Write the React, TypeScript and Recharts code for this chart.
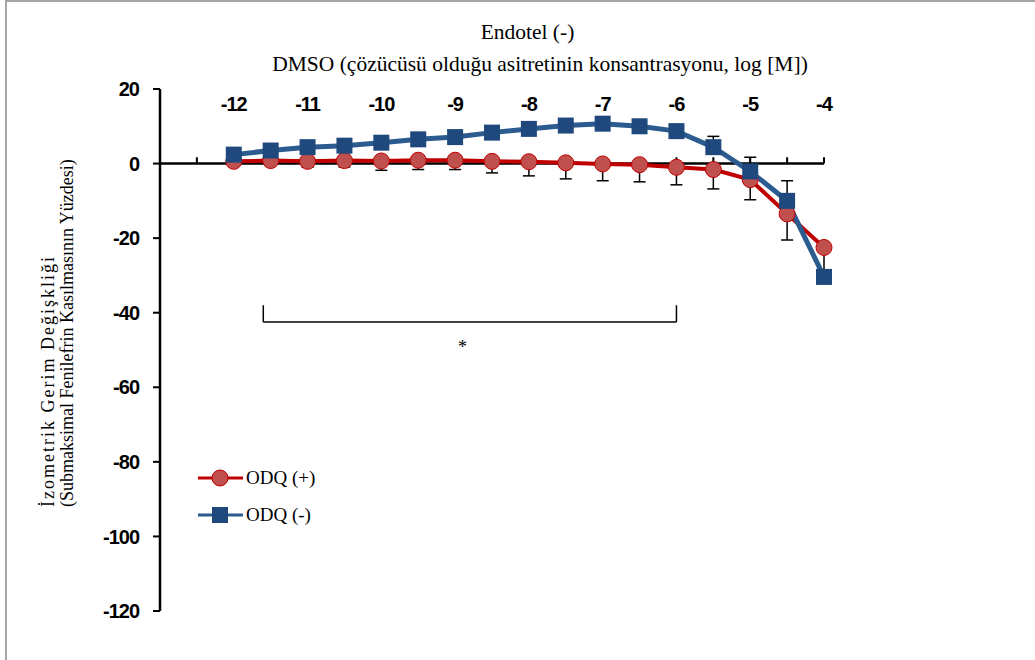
import React from 'react';
import {
  LineChart,
  Line,
  XAxis,
  YAxis,
  ErrorBar,
  ReferenceLine,
  ReferenceDot,
} from 'recharts';

// log [M] concentrations
const concentrations = [-12, -11.5, -11, -10.5, -10, -9.5, -9, -8.5, -8, -7.5, -7, -6.5, -6, -5.5, -5, -4.5, -4];

// ODQ (+) mean and lower error
const odqPlus = [0.6, 0.8, 0.6, 0.8, 0.7, 0.9, 0.9, 0.6, 0.5, 0.2, -0.1, -0.3, -1.0, -1.6, -4.3, -13.5, -22.5];
const odqPlusErr = [0.5, 0.8, 1.6, 1.7, 2.5, 2.5, 2.5, 3.1, 3.8, 4.3, 4.5, 4.6, 4.7, 5.2, 5.4, 7.0, 6.0];

// ODQ (-) mean and upper error
const odqMinus = [2.4, 3.5, 4.4, 4.8, 5.6, 6.5, 7.1, 8.3, 9.3, 10.2, 10.7, 10.0, 8.7, 4.4, -2.1, -10.0, -30.4];
const odqMinusErr = [0.8, 0.8, 0.8, 0.8, 0.8, 0.8, 0.8, 0.8, 1, 1, 1, 1, 1, 2.9, 3.8, 5.4, 1.5];

const xLabels = [-12, -11, -10, -9, -8, -7, -6, -5, -4];
const xTickMarks = [-12.5, -12, -11.5, -11, -10.5, -10, -9.5, -9, -8.5, -8, -7.5, -7, -6.5, -6, -5.5, -5, -4.5, -4];
const yTicks = [20, 0, -20, -40, -60, -80, -100, -120];

// significance bracket: from, to, top, bottom
const bracketX = [-11.6, -6];
const bracketY = [-38, -42.5];
const starPos = { x: -8.9, y: -49 };

const data = concentrations.map((c, i) => ({
  conc: c,
  plus: odqPlus[i],
  plusErr: [odqPlusErr[i], 0],
  minus: odqMinus[i],
  minusErr: [0, odqMinusErr[i]],
}));

const RED = '#c00000';
const RED_FILL = '#c0504d';
const BLUE = '#2c5c8f';
const BLUE_FILL = '#1f497d';

const numFont = { fontFamily: '"Liberation Sans", Arial, sans-serif', fontWeight: 700, fontSize: 20, fill: '#000', letterSpacing: -1 };
const serif = '"Liberation Serif", "Times New Roman", serif';

const TopTick = (props: any) => {
  const { x, y, payload } = props;
  return (
    <text x={x} y={y + 22} textAnchor="middle" style={numFont}>
      {payload.value}
    </text>
  );
};

const SquareDot = (props: any) => {
  const { cx, cy } = props;
  if (cx == null || cy == null) return null;
  return <rect x={cx - 8} y={cy - 8} width={16} height={16} fill={BLUE_FILL} />;
};

const YTitle = (props: any) => {
  const { viewBox } = props;
  const bottom = 507;
  const x1 = viewBox.x - 26;
  const x2 = viewBox.x - 7;
  return (
    <g style={{ fontFamily: serif, fontSize: 18 }} fill="#000">
      <text
        x={x1}
        y={bottom}
        transform={`rotate(-90 ${x1} ${bottom})`}
        textAnchor="start"
        style={{ letterSpacing: 2, whiteSpace: 'pre' }}
      >
        İzometrik Gerim Değişkliği
      </text>
      <text x={x2} y={bottom} transform={`rotate(-90 ${x2} ${bottom})`} textAnchor="start">
        (Submaksimal Fenilefrin Kasılmasının Yüzdesi)
      </text>
    </g>
  );
};

const LegendBox = () => (
  <div style={{ position: 'absolute', left: 198, top: 459, fontFamily: serif, fontSize: 19, color: '#000' }}>
    <div style={{ display: 'flex', alignItems: 'center', height: 37 }}>
      <svg width={48} height={20}>
        <line x1={0} y1={10} x2={45} y2={10} stroke={RED} strokeWidth={3} />
        <circle cx={22} cy={10} r={8} fill={RED_FILL} stroke={RED} strokeWidth={1} />
      </svg>
      <span>ODQ (+)</span>
    </div>
    <div style={{ display: 'flex', alignItems: 'center', height: 37 }}>
      <svg width={48} height={20}>
        <line x1={0} y1={10} x2={45} y2={10} stroke={BLUE} strokeWidth={3} />
        <rect x={14} y={2} width={16} height={16} fill={BLUE_FILL} />
      </svg>
      <span>ODQ (-)</span>
    </div>
  </div>
);

export default function App() {
  return (
    <div style={{ position: 'relative', width: 1035, height: 660, overflow: 'hidden', background: '#fff' }}>
      <style>{'body{margin:0}'}</style>
      <div
        style={{
          position: 'absolute',
          left: 5,
          top: 0,
          width: 1100,
          height: 700,
          borderLeft: '2px solid #a6a6a6',
          borderTop: '2px solid #a6a6a6',
        }}
      />
      <div style={{ position: 'absolute', left: 0, top: 20, width: 1035, fontFamily: serif, fontSize: 21.5 }}>
        <div style={{ position: 'absolute', left: 0, width: 1055, textAlign: 'center' }}>Endotel (-)</div>
        <div style={{ position: 'absolute', left: 0, top: 32, width: 1080, textAlign: 'center' }}>
          DMSO (çözücüsü olduğu asitretinin konsantrasyonu, log [M])
        </div>
      </div>
      <div style={{ position: 'absolute', left: 0, top: 0 }}>
        <LineChart width={1035} height={660} data={data} margin={{ top: 59, right: 211, bottom: 49, left: 80 }}>
          <XAxis
            dataKey="conc"
            type="number"
            orientation="top"
            domain={[-13, -4]}
            ticks={xLabels}
            tick={<TopTick />}
            tickLine={false}
            axisLine={false}
            tickSize={0}
            tickMargin={0}
            height={30}
          />
          <YAxis
            type="number"
            domain={[-120, 20]}
            ticks={yTicks}
            width={80}
            interval={0}
            tick={numFont}
            tickSize={7}
            tickMargin={14}
            tickLine={{ stroke: '#000', strokeWidth: 2 }}
            axisLine={{ stroke: '#000', strokeWidth: 2.5 }}
            label={<YTitle />}
          />
          <ReferenceLine y={0} stroke="#000" strokeWidth={2.5} />
          {xTickMarks.map((t) => (
            <ReferenceLine
              key={`tm-${t}`}
              segment={[{ x: t, y: 0 }, { x: t, y: 1.7 }]}
              stroke="#000"
              strokeWidth={2}
            />
          ))}
          <ReferenceLine
            segment={[{ x: bracketX[0], y: bracketY[1] }, { x: bracketX[1], y: bracketY[1] }]}
            stroke="#000"
            strokeWidth={1.5}
          />
          <ReferenceLine
            segment={[{ x: bracketX[0], y: bracketY[0] }, { x: bracketX[0], y: bracketY[1] }]}
            stroke="#000"
            strokeWidth={1.5}
          />
          <ReferenceLine
            segment={[{ x: bracketX[1], y: bracketY[0] }, { x: bracketX[1], y: bracketY[1] }]}
            stroke="#000"
            strokeWidth={1.5}
          />
          <ReferenceDot
            x={starPos.x}
            y={starPos.y}
            r={1}
            fill="none"
            stroke="none"
            label={{ value: '*', position: 'center', fontFamily: serif, fontSize: 18, fill: '#000' }}
          />
          <Line
            dataKey="plus"
            stroke={RED}
            strokeWidth={4}
            dot={{ r: 8, fill: RED_FILL, stroke: RED, strokeWidth: 1, fillOpacity: 1 }}
            isAnimationActive={false}
          >
            <ErrorBar dataKey="plusErr" direction="y" width={6} stroke="#000" strokeWidth={1.5} />
          </Line>
          <Line
            dataKey="minus"
            stroke={BLUE}
            strokeWidth={5}
            dot={<SquareDot />}
            isAnimationActive={false}
          >
            <ErrorBar dataKey="minusErr" direction="y" width={6} stroke="#000" strokeWidth={1.5} />
          </Line>
        </LineChart>
      </div>
      <LegendBox />
    </div>
  );
}
